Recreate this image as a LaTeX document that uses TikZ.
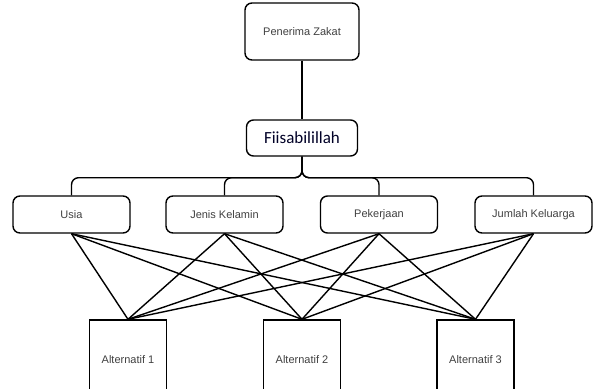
\documentclass[tikz,border=0pt]{standalone}
\usepackage{fontspec}
\setmainfont{Liberation Sans}
\newfontfamily\calibrifont{Carlito}
\begin{document}
\begin{tikzpicture}[
  x=1pt, y=-1pt,
  box/.style={draw, line width=1.4pt, rounded corners=7pt, align=center, text=black!75,
    font=\fontsize{11}{13}\selectfont, minimum width=117pt, minimum height=37pt},
  altbox/.style={draw, line width=1.4pt, align=center, text=black!75,
    font=\fontsize{11}{13}\selectfont, minimum width=77pt, minimum height=80pt},
  link/.style={line width=1.4pt},
  branch/.style={line width=1.4pt, rounded corners=7pt}
]
\useasboundingbox (0,0) rectangle (593,388);
\clip (0,0) rectangle (593,388);

\node[box, minimum width=114pt, minimum height=57pt] at (302,31.5) (penerima) {Penerima Zakat};
\node[box, minimum width=111pt, minimum height=36pt, text=black!85!blue,
  font=\calibrifont\fontsize{17}{19}\selectfont] at (302,138) (fiis) {Fiisabilillah};

\node[box] at (71.5,214.5) (usia) {Usia};
\node[box] at (224.5,214.5) (jenis) {Jenis Kelamin};
\node[box] at (379,214.5) (pekerjaan) {Pekerjaan};
\node[box] at (533.5,214.5) (jumlah) {Jumlah Keluarga};

\node[altbox] at (128,360) (alt1) {Alternatif 1};
\node[altbox] at (302,360) (alt2) {Alternatif 2};
\node[altbox] at (475.5,360) (alt3) {Alternatif 3};

\draw[link] (penerima) -- (fiis);

\foreach \crit in {usia,jenis,pekerjaan,jumlah}
  \draw[branch] (fiis.south) -- ++(0,21) -| (\crit.north);

\foreach \crit in {usia,jenis,pekerjaan,jumlah}
  \foreach \alt in {alt1,alt2,alt3}
    \draw[link] (\crit.south) -- (\alt.north);
\end{tikzpicture}
\end{document}
